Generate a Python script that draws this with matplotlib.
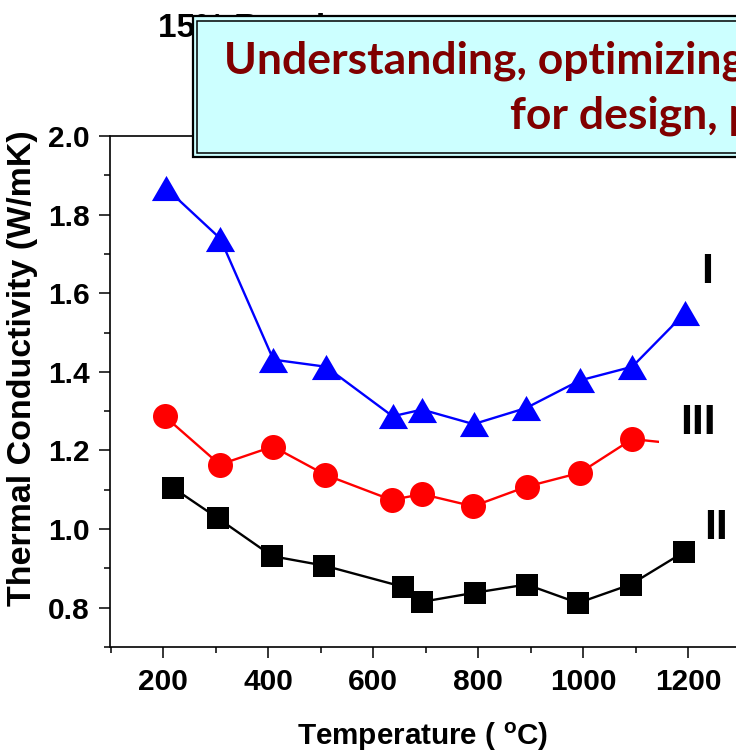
import numpy as np
import matplotlib
matplotlib.use('Agg')
import matplotlib.pyplot as plt
from matplotlib.patches import Rectangle

# data
temp_I = [206, 309, 410, 510, 637, 693, 791, 891, 993, 1093, 1193]
k_I = [1.867, 1.739, 1.431, 1.413, 1.287, 1.304, 1.267, 1.308, 1.378, 1.413, 1.549]

temp_III = [203, 308, 409, 509, 635, 693, 790, 892, 993, 1093, 1193]
k_III = [1.287, 1.164, 1.210, 1.138, 1.074, 1.089, 1.058, 1.108, 1.143, 1.229, 1.215]

temp_II = [219, 305, 408, 507, 657, 693, 793, 892, 990, 1090, 1192]
k_II = [1.105, 1.027, 0.931, 0.907, 0.853, 0.815, 0.838, 0.859, 0.812, 0.859, 0.942]

xticks = [200, 400, 600, 800, 1000, 1200]
yticks = [0.8, 1.0, 1.2, 1.4, 1.6, 1.8, 2.0]

W, H = 736, 753
plt.rcParams['font.family'] = ['Liberation Sans', 'DejaVu Sans']
plt.rcParams['font.weight'] = 'bold'
plt.rcParams['mathtext.fontset'] = 'custom'
plt.rcParams['mathtext.rm'] = 'Liberation Sans:bold'
plt.rcParams['mathtext.bf'] = 'Liberation Sans:bold'
plt.rcParams['mathtext.default'] = 'bf'

def fx(px):
    return px / W

def fy(py):
    return 1 - py / H

fig = plt.figure(figsize=(W / 100, H / 100), dpi=100)
ax = fig.add_axes([fx(110.5), fy(647), (741 - 110.5) / W, (647 - 136) / H])

tri = [(0, 0.862), (-1, -0.862), (1, -0.862)]
ax.plot(temp_I, k_I, color='#0000FF', lw=1.7, marker=tri, ms=21, mew=0, zorder=3)
ax.plot(temp_III, k_III, color='#FF0000', lw=1.7, marker='o', ms=18, mew=0, zorder=3)
ax.plot(temp_II, k_II, color='black', lw=1.7, marker='s', ms=16, mew=0, zorder=3)

ax.set_xlim(100, 1300)
ax.set_ylim(0.7, 2.0)
ax.set_xticks(xticks)
ax.set_xticks(np.arange(100, 1301, 100), minor=True)
ax.set_yticks(yticks)
ax.set_yticks(np.arange(0.7, 2.0, 0.1), minor=True)
ax.set_yticklabels(['%.1f' % v for v in yticks])
ax.tick_params(which='major', direction='out', length=8, width=1.1, labelsize=21.5, pad=7)
ax.tick_params(which='minor', direction='out', length=4, width=1.1)
for lab in ax.get_xticklabels() + ax.get_yticklabels():
    lab.set_fontweight('bold')
for sp in ax.spines.values():
    sp.set_linewidth(1.2)

ax.text(1236, 1.653, 'I', fontsize=31, fontweight='bold', ha='center', va='center', zorder=5)
ax.text(1218, 1.271, 'III', fontsize=31, fontweight='bold', ha='center', va='center', zorder=5,
        bbox=dict(facecolor='white', edgecolor='none', pad=15))
ax.text(1252, 1.002, 'II', fontsize=31, fontweight='bold', ha='center', va='center', zorder=5)

fig.text(fx(22.5), fy(368), 'Thermal Conductivity (W/mK)', rotation=90,
         ha='center', va='center', fontsize=24.5, fontweight='bold')
fig.text(fx(423), fy(745), r'Temperature ( $^{o}$C)', ha='center', va='baseline',
         fontsize=21.3, fontweight='bold')

# title partly hidden behind the banner
fig.text(fx(158), fy(36.7), '15% Results', fontsize=24, fontweight='bold',
         ha='left', va='baseline', zorder=1)

# banner box with double border
fig.patches.append(Rectangle((fx(192.7), fy(157.3)), (800 - 192.7) / W, (157.3 - 16) / H,
                             transform=fig.transFigure, facecolor='#CCFFFF',
                             edgecolor='black', lw=1.6, zorder=10))
fig.patches.append(Rectangle((fx(197.3), fy(152.7)), (800 - 197.3) / W, (152.7 - 20.7) / H,
                             transform=fig.transFigure, facecolor='#CCFFFF',
                             edgecolor='black', lw=1.1, zorder=11))
fig.text(fx(224), fy(73.3), 'Understanding, optimizing', family=['Lato', 'DejaVu Sans'],
         fontsize=32, fontweight='bold', color='#800000', ha='left', va='baseline', zorder=12)
fig.text(fx(510), fy(128.3), 'for design, p', family=['Lato', 'DejaVu Sans'],
         fontsize=32, fontweight='bold', color='#800000', ha='left', va='baseline', zorder=12)

fig.savefig('out.png', dpi=100)
